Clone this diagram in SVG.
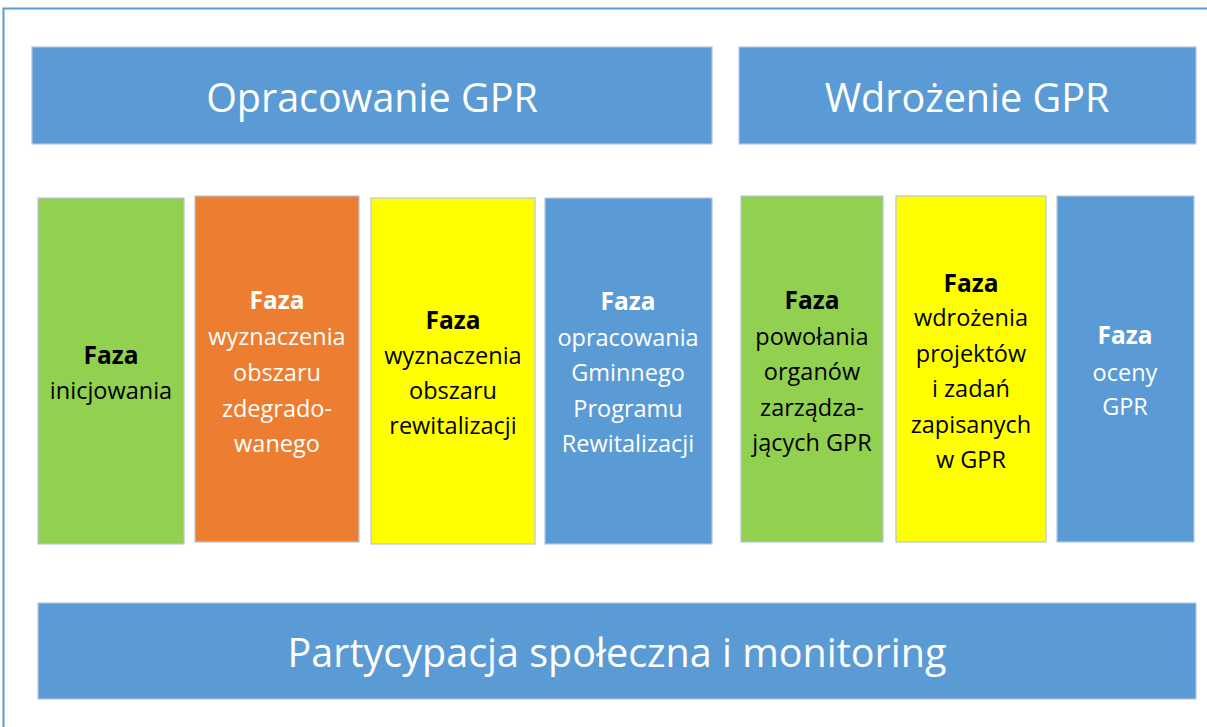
<svg xmlns="http://www.w3.org/2000/svg" width="1207" height="727" viewBox="0 0 1207 727">
<style>
.box{stroke:#b4c7dc;stroke-width:1.2}
.blue{fill:#5b9bd5}.green{fill:#92d050}.orange{fill:#ed7d31}.yellow{fill:#ffff00}
text{font-family:"Open Sans","Noto Sans",sans-serif;text-anchor:middle}
.t{font-size:23.5px}.b{font-weight:bold;font-size:24.5px}
.w{fill:#ffffff}.k{fill:#000000}
.big{font-size:39.5px;fill:#ffffff}
</style>
<rect x="0" y="0" width="1207" height="727" fill="#ffffff"/>
<path d="M3.5,727 V8.5 H1207" fill="none" stroke="#5b9bd5" stroke-width="2"/>
<g id="opracowanie"><rect class="box blue" x="32" y="47" width="680" height="97"/><text class="big" x="372" y="112">Opracowanie GPR</text></g>
<g id="wdrozenie"><rect class="box blue" x="739" y="47" width="457" height="97"/><text class="big" x="967" y="112">Wdrożenie GPR</text></g>
<g id="inicjowania"><rect class="box green" x="38" y="198" width="146" height="346"/>
<text class="k" x="111"><tspan class="b" x="111" y="364">Faza</tspan><tspan class="t" x="111" y="399">inicjowania</tspan></text></g>
<g id="zdegradowanego"><rect class="box orange" x="195" y="196" width="164" height="346"/>
<text class="w"><tspan class="b" x="277" y="309">Faza</tspan><tspan class="t" x="277" y="345">wyznaczenia</tspan><tspan class="t" x="277" y="381">obszaru</tspan><tspan class="t" x="277" y="417">zdegrado-</tspan><tspan class="t" x="277" y="452">wanego</tspan></text></g>
<g id="rewitalizacji"><rect class="box yellow" x="371" y="198" width="164" height="346"/>
<text class="k"><tspan class="b" x="453" y="329">Faza</tspan><tspan class="t" x="453" y="364">wyznaczenia</tspan><tspan class="t" x="453" y="399">obszaru</tspan><tspan class="t" x="453" y="434">rewitalizacji</tspan></text></g>
<g id="opracowania"><rect class="box blue" x="545" y="198" width="167" height="346"/>
<text class="w"><tspan class="b" x="628" y="310">Faza</tspan><tspan class="t" x="628" y="346">opracowania</tspan><tspan class="t" x="628" y="381">Gminnego</tspan><tspan class="t" x="628" y="417">Programu</tspan><tspan class="t" x="628" y="452">Rewitalizacji</tspan></text></g>
<g id="powolania"><rect class="box green" x="741" y="196" width="142" height="346"/>
<text class="k"><tspan class="b" x="812" y="309">Faza</tspan><tspan class="t" x="812" y="345">powołania</tspan><tspan class="t" x="812" y="380">organów</tspan><tspan class="t" x="812" y="416">zarządza-</tspan><tspan class="t" x="812" y="451">jących GPR</tspan></text></g>
<g id="wdrozenia"><rect class="box yellow" x="896" y="196" width="150" height="346"/>
<text class="k"><tspan class="b" x="971" y="292">Faza</tspan><tspan class="t" x="971" y="326">wdrożenia</tspan><tspan class="t" x="971" y="362">projektów</tspan><tspan class="t" x="971" y="397">i zadań</tspan><tspan class="t" x="971" y="433">zapisanych</tspan><tspan class="t" x="971" y="468">w GPR</tspan></text></g>
<g id="oceny"><rect class="box blue" x="1057" y="196" width="137" height="346"/>
<text class="w"><tspan class="b" x="1125" y="344">Faza</tspan><tspan class="t" x="1125" y="381">oceny</tspan><tspan class="t" x="1125" y="415">GPR</tspan></text></g>
<g id="partycypacja"><rect class="box blue" x="38" y="603" width="1158" height="96"/><text class="big" x="617" y="667">Partycypacja społeczna i monitoring</text></g>
<g id="connectors"/>
</svg>
